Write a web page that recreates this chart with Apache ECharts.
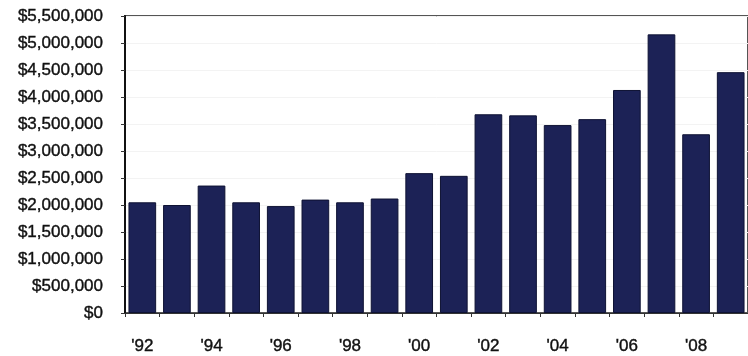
<!DOCTYPE html>
<html>
<head>
<meta charset="utf-8">
<style>
  html, body { margin: 0; padding: 0; background: #ffffff; }
  #chart { width: 748px; height: 356px; }
</style>
<script src="https://cdn.jsdelivr.net/npm/echarts@6/dist/echarts.min.js"></script>
</head>
<body>
<div id="chart"></div>
<script>
// Annual totals, 1992 through 2009
const years = ["'92", "'93", "'94", "'95", "'96", "'97", "'98", "'99", "'00",
               "'01", "'02", "'03", "'04", "'05", "'06", "'07", "'08", "'09"];
const totals = [2050000, 2000000, 2360000, 2050000, 1980000, 2100000, 2050000, 2120000, 2590000,
                2540000, 3680000, 3660000, 3480000, 3590000, 4130000, 5160000, 3310000, 4460000];

// Value axis range and step
const yMin = 0;
const yMax = 5500000;
const yStep = 500000;

function money(v) {
  return '$' + v.toString().replace(/\B(?=(\d{3})+(?!\d))/g, ',');
}

const labelFont = {
  color: '#111111',
  fontFamily: 'Liberation Sans, Arial, sans-serif',
  fontSize: 17,
  textBorderColor: '#111111',
  textBorderWidth: 0.4
};

const chart = echarts.init(document.getElementById('chart'), null, { renderer: 'canvas' });

chart.setOption({
  animation: false,
  backgroundColor: '#ffffff',
  grid: {
    left: 125,
    top: 16,
    width: 632,
    height: 297,
    show: true,
    borderColor: '#555555',
    borderWidth: 2,
    backgroundColor: 'transparent'
  },
  xAxis: {
    type: 'category',
    data: years,
    axisLine: { show: true, lineStyle: { color: '#333333', width: 1 } },
    axisTick: { show: true, interval: 0, length: 4, lineStyle: { color: '#333333' } },
    axisLabel: Object.assign({ interval: 1, margin: 25 }, labelFont),
    splitLine: { show: false }
  },
  yAxis: {
    type: 'value',
    min: yMin,
    max: yMax,
    interval: yStep,
    axisLine: { show: true, lineStyle: { color: '#111111', width: 2 } },
    axisTick: { show: true, length: 4, lineStyle: { color: '#333333' } },
    axisLabel: Object.assign({ margin: 22, formatter: money }, labelFont),
    splitLine: { show: true, lineStyle: { color: '#f3f3f3', width: 1 } }
  },
  series: [{
    type: 'bar',
    data: totals,
    barCategoryGap: '20%',
    itemStyle: {
      color: '#1c2256',
      borderColor: '#0e1233',
      borderWidth: 1
    }
  }]
});
</script>
</body>
</html>
